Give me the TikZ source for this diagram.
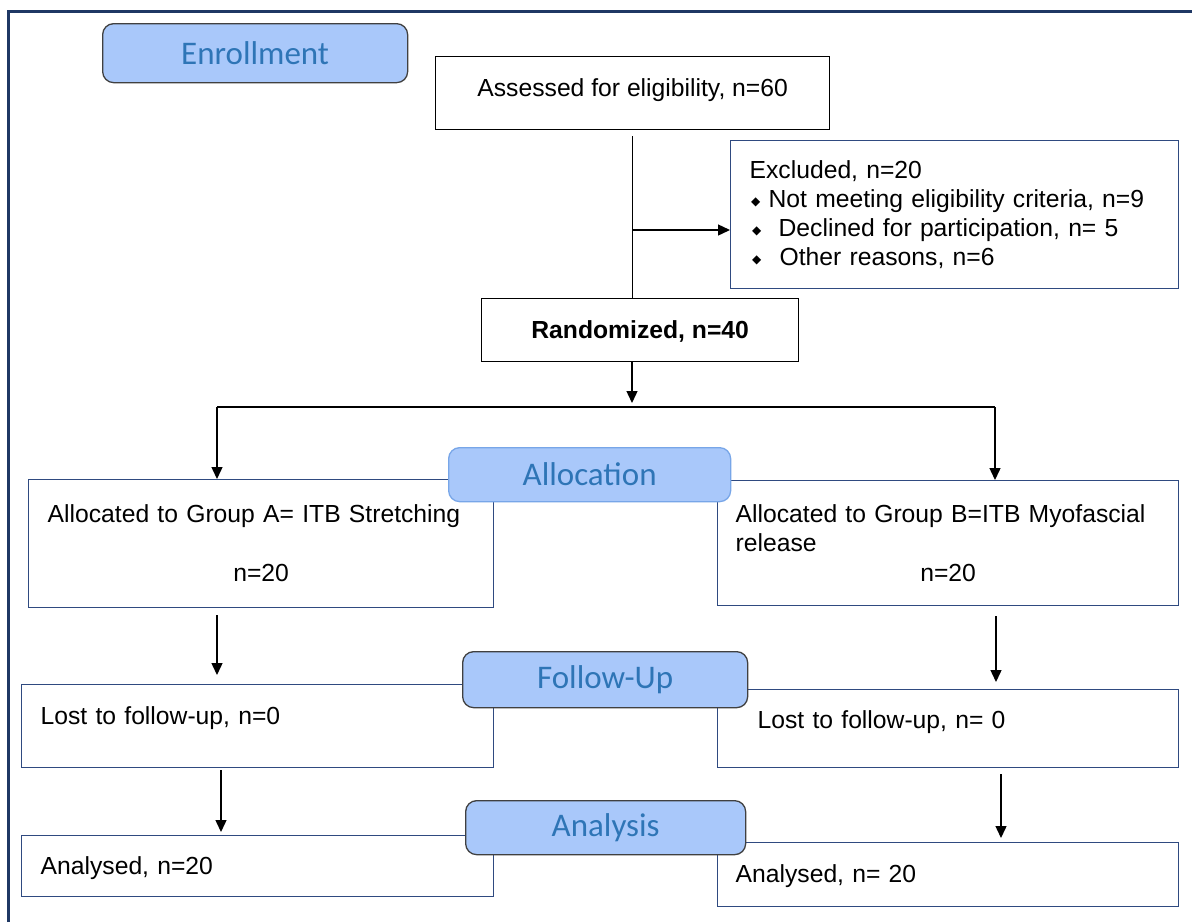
\documentclass[tikz,border=0pt]{standalone}
\usepackage{fontspec}
\setmainfont{Liberation Sans}
\newfontfamily\calibrifont{Carlito}
\newfontfamily\dejavufont{DejaVu Sans}
\usetikzlibrary{arrows.meta,calc}
\definecolor{framenavy}{HTML}{1F3864}
\definecolor{boxblue}{HTML}{2F4A80}
\definecolor{lblfill}{HTML}{A9C8FA}
\definecolor{lbltext}{HTML}{2E75B6}
\definecolor{lblborder}{HTML}{404040}
\definecolor{lblborderlight}{HTML}{78A6E8}
\newcommand{\exbullet}{\raisebox{2.5pt}{\dejavufont\fontsize{12}{12}\selectfont ◆}}
\begin{document}
\begin{tikzpicture}[x=1pt,y=-1pt,
  every node/.style={font=\fontsize{24.7}{28.4}\selectfont},
  box/.style={draw=boxblue, line width=1.3pt, rectangle, inner sep=0pt, anchor=north west},
  bbox/.style={box, draw=black},
  lbl/.style={draw=lblborder, line width=1.3pt, fill=lblfill, rounded corners=11pt,
    anchor=north west, inner sep=0pt, text=lbltext, font=\calibrifont\fontsize{33}{33}\selectfont},
  conn/.style={line width=1.4pt, black},
  arr/.style={conn, -{Triangle[length=12pt,width=11pt]}}
]
\useasboundingbox (0,0) rectangle (1192,922);
\fill[white] (0,0) rectangle (1192,922);
% outer frame
\draw[framenavy, line width=3pt] (8.3,922) -- (8.3,11.3) -- (1192,11.3);

% boxes
\node[bbox, minimum width=394pt, minimum height=73pt, text height=18pt, text depth=12pt] (assess) at (435,56) {Assessed for eligibility, n=60};

\node[box, minimum width=448pt, minimum height=148pt, inner xsep=19pt, text width=410pt, align=left,
  font=\fontsize{24.7}{29}\selectfont] (excl) at (730,140)
  {Excluded, n=20\\
   \makebox[19pt][l]{\hspace{1.5pt}\exbullet}Not meeting eligibility criteria, n=9\\
   \makebox[29pt][l]{\hspace{2.5pt}\exbullet}Declined for participation, n= 5\\
   \makebox[30pt][l]{\hspace{2.5pt}\exbullet}Other reasons, n=6};

\node[bbox, minimum width=317pt, minimum height=63pt, text height=18pt, text depth=1pt,
  font=\bfseries\fontsize{24.7}{28}\selectfont] (rand) at (481,298) {Randomized, n=40};

\node[box, minimum width=465pt, minimum height=128pt, inner xsep=19pt, text width=427pt, align=left] (allocA) at (28,479)
  {Allocated to Group A= ITB Stretching\\[30.6pt]\makebox[427pt][c]{n=20}};

\node[box, minimum width=461pt, minimum height=125pt, inner xsep=18pt, text width=425pt, align=left,
  font=\fontsize{24.7}{29.5}\selectfont] (allocB) at (717,480)
  {Allocated to Group B=ITB Myofascial\\release\\\makebox[425pt][c]{n=20}};

\node[box, minimum width=472pt, minimum height=83pt, inner xsep=19pt, text width=434pt, align=left,
  text height=18pt, text depth=21pt] (lostA) at (21,684) {Lost to follow-up, n=0};

\node[box, minimum width=461pt, minimum height=78pt, inner xsep=40pt, text width=381pt, align=left,
  text height=18pt, text depth=19pt] (lostB) at (717,689) {Lost to follow-up, n= 0};

\node[box, minimum width=472pt, minimum height=61pt, inner xsep=19pt, text width=434pt, align=left,
  text height=18pt, text depth=1.4pt] (anA) at (21,835) {Analysed, n=20};

\node[box, minimum width=461pt, minimum height=64pt, inner xsep=18pt, text width=425pt, align=left,
  text height=18pt, text depth=3.2pt] (anB) at (717,842) {Analysed, n= 20};

% connectors
\coordinate (fork) at (632,230);
\coordinate (split) at (632,407);
\coordinate (splitL) at (217,407);
\coordinate (splitR) at (995,407);
\draw[conn] ($(assess.south)+(0,6)$) -- (assess.south |- rand.north);
\draw[arr] (fork) -- (fork -| excl.west);
\draw[arr, shorten >=4pt] (rand.south -| split) -- (split);
\draw[conn] (splitL) -- (splitR);
\draw[arr] (splitL) -- (splitL |- allocA.north);
\draw[arr] (splitR) -- (splitR |- allocB.north);

\coordinate (fa) at (217,615);
\coordinate (fb) at (996,616);
\coordinate (aa) at (221,770);
\coordinate (ab) at (1001,774);
\draw[arr, shorten >=9pt] (fa) -- (fa |- lostA.north);
\draw[arr, shorten >=7pt] (fb) -- (fb |- lostB.north);
\draw[arr, shorten >=3pt] (aa) -- (aa |- anA.north);
\draw[arr, shorten >=4pt] (ab) -- (ab |- anB.north);

% stage labels
\node[lbl, minimum width=305pt, minimum height=59pt] (enroll) at (102,23) {Enrollment};
\node[lbl, draw=lblborderlight, minimum width=282pt, minimum height=54pt] (alloc) at (448,447) {Allocation};
\node[lbl, minimum width=285pt, minimum height=56pt] (follow) at (462,651) {Follow-Up};
\node[lbl, minimum width=280pt, minimum height=54pt] (analysis) at (465,800) {Analysis};
\end{tikzpicture}
\end{document}
